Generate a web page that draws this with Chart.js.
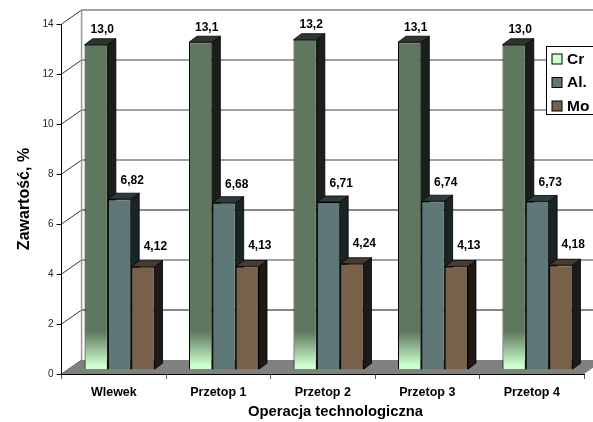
<!DOCTYPE html>
<html>
<head>
<meta charset="utf-8">
<script src="https://cdn.jsdelivr.net/npm/chart.js@4"></script>
<style>
  html, body { margin: 0; padding: 0; background: #fff; }
  canvas { display: block; }
</style>
</head>
<body>
<canvas id="grafico" width="593" height="422"></canvas>
<script>
const operacje = ['Wlewek', 'Przetop 1', 'Przetop 2', 'Przetop 3', 'Przetop 4'];
const crValues = [13.0, 13.1, 13.2, 13.1, 13.0];
const alValues = [6.82, 6.68, 6.71, 6.74, 6.73];
const moValues = [4.12, 4.13, 4.24, 4.13, 4.18];
const crLabels = ['13,0', '13,1', '13,2', '13,1', '13,0'];
const alLabels = ['6,82', '6,68', '6,71', '6,74', '6,73'];
const moLabels = ['4,12', '4,13', '4,24', '4,13', '4,18'];

const FONT = '"Liberation Sans", Arial, sans-serif';
// przesuniecia perspektywy
const wall = { dx: 20, dy: -14 };
const bar3d = { dx: 8, dy: -6 };
const barShift = { dx: 5.7, dy: -4.3 };
const labelOffset = [[6, -11.5], [12.7, -15], [12.5, -17]];
const legendColors = ['#ccffcc', '#5f7777', '#77614a'];
const sideColors = [['#1a1f1a', '#2c362c'], ['#1a2424', '#2c3c3c'], ['#1f1a14', '#4a3c2c']];

function crGradient(context) {
  const { chart } = context;
  if (!chart.chartArea) return '#5f775f';
  const y = chart.scales.y;
  const g = chart.ctx.createLinearGradient(0, y.getPixelForValue(0) + barShift.dy, 0, y.getPixelForValue(1.35) + barShift.dy);
  g.addColorStop(0, '#ccffcc');
  g.addColorStop(1, '#5f775f');
  return g;
}

function drawBarSides(chart) {
  const { ctx } = chart;
  ctx.strokeStyle = '#000';
  ctx.lineWidth = 0.8;
  chart.data.datasets.forEach((ds, i) => {
    chart.getDatasetMeta(i).data.forEach(bar => {
      const l = bar.x - bar.width / 2, r = bar.x + bar.width / 2;
      const t = bar.y, b = bar.base;
      ctx.fillStyle = sideColors[i][0];
      ctx.beginPath();
      ctx.moveTo(r, t);
      ctx.lineTo(r + bar3d.dx, t + bar3d.dy);
      ctx.lineTo(r + bar3d.dx, b + bar3d.dy);
      ctx.lineTo(r, b);
      ctx.closePath();
      ctx.fill();
      ctx.stroke();
      ctx.fillStyle = sideColors[i][1];
      ctx.beginPath();
      ctx.moveTo(l, t);
      ctx.lineTo(l + bar3d.dx, t + bar3d.dy);
      ctx.lineTo(r + bar3d.dx, t + bar3d.dy);
      ctx.lineTo(r, t);
      ctx.closePath();
      ctx.fill();
      ctx.stroke();
    });
  });
}

// sciany, podloga i linie siatki pod slupkami
const scena = {
  id: 'scena',
  beforeDatasetsDraw(chart) {
    const { ctx, chartArea: a, scales: { y } } = chart;
    ctx.save();
    y.ticks.forEach(t => {
      const py = y.getPixelForValue(t.value);
      if (t.value > 0) {
        const ciemna = t.value === 2 || t.value === 6;
        ctx.strokeStyle = ciemna ? '#111' : '#808080';
        ctx.lineWidth = ciemna ? 1 : 1.5;
        ctx.beginPath();
        ctx.moveTo(a.left + wall.dx, py + wall.dy);
        ctx.lineTo(a.right + wall.dx, py + wall.dy);
        ctx.stroke();
      }
      ctx.strokeStyle = '#333';
      ctx.lineWidth = 1;
      ctx.beginPath();
      ctx.moveTo(a.left, py);
      ctx.lineTo(a.left + wall.dx, py + wall.dy);
      ctx.stroke();
    });
    ctx.strokeStyle = '#999';
    ctx.lineWidth = 1.5;
    ctx.beginPath();
    ctx.moveTo(a.left + wall.dx, a.top + wall.dy);
    ctx.lineTo(a.left + wall.dx, a.bottom + wall.dy);
    ctx.stroke();
    // podloga
    ctx.fillStyle = '#808080';
    ctx.beginPath();
    ctx.moveTo(a.left, a.bottom);
    ctx.lineTo(a.left + wall.dx, a.bottom + wall.dy);
    ctx.lineTo(a.right + wall.dx, a.bottom + wall.dy);
    ctx.lineTo(a.right, a.bottom);
    ctx.closePath();
    ctx.fill();
    ctx.restore();
    // slupki rysowane z przesunieciem w glab
    ctx.save();
    ctx.translate(barShift.dx, barShift.dy);
    drawBarSides(chart);
  },
  afterDatasetsDraw(chart) {
    const { ctx } = chart;
    ctx.restore();
    ctx.save();
    ctx.fillStyle = '#000';
    ctx.font = 'bold 12px ' + FONT;
    ctx.textAlign = 'center';
    ctx.textBaseline = 'alphabetic';
    const teksty = [crLabels, alLabels, moLabels];
    chart.data.datasets.forEach((ds, i) => {
      chart.getDatasetMeta(i).data.forEach((bar, j) => {
        ctx.fillText(teksty[i][j], bar.x + barShift.dx + labelOffset[i][0], bar.y + barShift.dy + labelOffset[i][1]);
      });
    });
    // tytul osi x, przesuniety wzgledem srodka osi
    ctx.font = 'bold 14.8px ' + FONT;
    ctx.fillText('Operacja technologiczna', 335.5, 416);
    // legenda
    ctx.fillStyle = '#fff';
    ctx.strokeStyle = '#000';
    ctx.lineWidth = 1;
    ctx.fillRect(546.5, 46.5, 60, 68);
    ctx.strokeRect(546.5, 46.5, 60, 68);
    ctx.font = 'bold 15.5px ' + FONT;
    ctx.textBaseline = 'middle';
    ctx.textAlign = 'left';
    chart.data.datasets.forEach((ds, i) => {
      const ly = 59 + i * 23.5;
      ctx.fillStyle = legendColors[i];
      ctx.fillRect(552, ly - 5, 10, 10);
      ctx.strokeRect(552, ly - 5, 10, 10);
      ctx.fillStyle = '#000';
      ctx.fillText(ds.label, 567, ly + 0.5);
    });
    ctx.restore();
  }
};

new Chart(document.getElementById('grafico'), {
  type: 'bar',
  data: {
    labels: operacje,
    datasets: [
      { label: 'Cr', data: crValues, backgroundColor: crGradient, borderColor: '#000', borderWidth: 1 },
      { label: 'Al.', data: alValues, backgroundColor: '#5f7777', borderColor: '#000', borderWidth: 1 },
      { label: 'Mo', data: moValues, backgroundColor: '#77614a', borderColor: '#000', borderWidth: 1 }
    ]
  },
  plugins: [scena],
  options: {
    responsive: false,
    animation: false,
    layout: { padding: { top: 24, right: 9, left: 0, bottom: 0 } },
    datasets: { bar: { barPercentage: 1, categoryPercentage: 0.67 } },
    plugins: { legend: { display: false }, tooltip: { enabled: false } },
    scales: {
      x: {
        afterFit: s => { s.height = 48; },
        border: { color: '#000', width: 1 },
        grid: { display: true, drawOnChartArea: false, tickLength: 5, color: '#555' },
        ticks: { color: '#000', padding: 6, maxRotation: 0, font: { family: FONT, size: 12.5, weight: 'bold' } }
      },
      y: {
        min: 0,
        max: 14,
        afterFit: s => { s.width = 61.6; },
        border: { color: '#000', width: 1 },
        grid: { display: true, drawOnChartArea: false, tickLength: 5, color: '#000' },
        ticks: { stepSize: 2, color: '#222', padding: 3, font: { family: FONT, size: 10 } },
        title: { display: true, text: 'Zawartość, %', color: '#000', padding: { top: 15, bottom: 0 }, font: { family: FONT, size: 16, weight: 'bold' } }
      }
    }
  }
});
</script>
</body>
</html>
